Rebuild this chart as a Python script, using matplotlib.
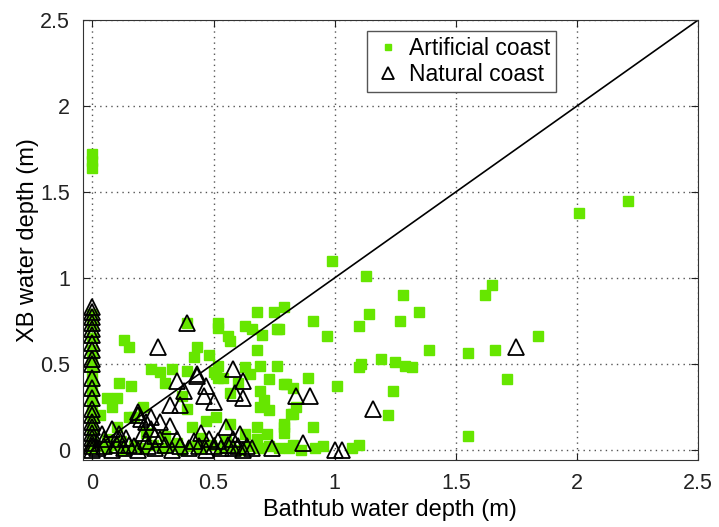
"""Bathtub vs XBeach water depth scatter, artificial vs natural coast."""
import matplotlib
matplotlib.use("Agg")
import matplotlib.pyplot as plt

plt.rcParams["font.family"] = ["Liberation Sans", "DejaVu Sans"]

# artificial coast (green squares): bathtub depth, XB depth (m)
art_x = [0, 0, 0, 0, 0, 0, 0, 0, 0, 0, 0, 0, 0, 0, 0, 0, 0,
         0.99, 1.13, 2.01, 2.21, 1.65, 1.62, 1.28, 1.14, 1.35, 1.27, 1.10, 0.91, 0.97, 0.79, 0.77,
         1.39, 1.55, 1.66, 1.84, 1.71, 1.55, 1.11, 1.10, 1.19, 1.25, 1.29, 1.32, 1.01, 1.24, 1.22,
         0.89, 0.80, 0.83, 0.84, 0.83, 0.79, 0.79, 0.91,
         0.13, 0.15, 0.24, 0.28, 0.33, 0.39, 0.11, 0.16, 0.06, 0.10, 0.08, 0.21, 0.15, 0.03, 0.10,
         0.30, 0.43, 0.42, 0.48, 0.52, 0.52, 0.63, 0.66, 0.68, 0.75, 0.70, 0.76, 0.57, 0.56, 0.68,
         0.52, 0.50, 0.51, 0.52, 0.54, 0.60, 0.63, 0.65, 0.69, 0.76, 0.73, 0.69, 0.71, 0.69, 0.73,
         0.79, 0.82, 0.57, 0.39, 0.37, 0.47, 0.51, 0.41, 0.57, 0.68, 0.72, 0.79, 0.63, 0.68, 0.39,
         0.17, 0.22, 0.30, 0.45,
         0.03, 0.06, 0.09, 0.13, 0.17, 0.21, 0.25, 0.29, 0.33, 0.37, 0.41, 0.45, 0.49, 0.53, 0.57,
         0.61, 0.65, 0.69, 0.73, 0.77, 0.81, 0.83, 0.86, 0.92, 0.95, 1.07, 1.10, 0.06, 0.12, 0.35, 0.55]
art_y = [1.64, 1.68, 1.72, 0.79, 0.72, 0.65, 0.58, 0.52, 0.46, 0.40, 0.34, 0.28, 0.22, 0.16, 0.10, 0.05, 0.01,
         1.10, 1.01, 1.38, 1.45, 0.96, 0.90, 0.90, 0.79, 0.80, 0.75, 0.72, 0.75, 0.66, 0.83, 0.70,
         0.58, 0.56, 0.58, 0.66, 0.41, 0.08, 0.50, 0.48, 0.53, 0.51, 0.49, 0.48, 0.37, 0.34, 0.20,
         0.42, 0.38, 0.36, 0.25, 0.21, 0.13, 0.10, 0.13,
         0.64, 0.60, 0.47, 0.45, 0.47, 0.46, 0.39, 0.37, 0.30, 0.30, 0.25, 0.25, 0.19, 0.20, 0.13,
         0.39, 0.60, 0.54, 0.55, 0.74, 0.71, 0.72, 0.70, 0.80, 0.80, 0.67, 0.70, 0.63, 0.66, 0.58,
         0.49, 0.45, 0.44, 0.42, 0.42, 0.39, 0.48, 0.44, 0.49, 0.49, 0.41, 0.34, 0.29, 0.25, 0.23,
         0.38, 0.21, 0.33, 0.24, 0.31, 0.17, 0.19, 0.13, 0.15, 0.13, 0.09, 0.15, 0.09, 0.06, 0.74,
         0.19, 0.10, 0.08, 0.07,
         0.02, 0.01, 0.03, 0.00, 0.02, 0.01, 0.03, 0.01, 0.02, 0.00, 0.02, 0.01, 0.03, 0.01, 0.02,
         0.00, 0.02, 0.01, 0.02, 0.01, 0.01, 0.03, 0.00, 0.01, 0.02, 0.01, 0.03, 0.06, 0.05, 0.04, 0.05]

# natural coast (open triangles)
nat_x = [0, 0, 0, 0, 0, 0, 0, 0, 0, 0, 0, 0, 0, 0, 0, 0, 0, 0, 0, 0, 0, 0,
         0.39, 0.27, 0.58, 0.35, 0.43, 0.47, 0.38, 0.62, 0.59, 0.62, 0.46, 0.50, 0.32, 0.36, 0.19,
         0.84, 0.90, 0.55, 0.61, 0.45, 0.74, 0.08, 0.11, 0.19, 0.24, 0.20, 0.22, 0.28, 0.32, 0.04,
         0.21, 0.24, 0.28, 0.22, 0.11, 0.15, 0.42, 0.48, 0.52, 0.87, 1.00, 1.03, 1.16, 1.75, 0.43,
         0.02, 0.05, 0.08, 0.10, 0.13, 0.17, 0.19, 0.23, 0.26, 0.30, 0.33, 0.36, 0.40, 0.44, 0.47,
         0.50, 0.53, 0.56, 0.58, 0.60, 0.62, 0.64, 0.66, 0.05, 0.14, 0.26, 0.35, 0.58]
nat_y = [0.83, 0.80, 0.77, 0.74, 0.70, 0.67, 0.62, 0.58, 0.53, 0.50, 0.42, 0.36, 0.30, 0.24, 0.20,
         0.16, 0.13, 0.10, 0.07, 0.04, 0.02, 0.00,
         0.74, 0.60, 0.47, 0.40, 0.43, 0.37, 0.34, 0.40, 0.33, 0.30, 0.31, 0.28, 0.26, 0.26, 0.20,
         0.31, 0.31, 0.13, 0.09, 0.10, 0.01, 0.12, 0.09, 0.22, 0.19, 0.18, 0.16, 0.16, 0.14, 0.09,
         0.10, 0.12, 0.06, 0.05, 0.06, 0.03, 0.05, 0.06, 0.05, 0.04, 0.00, 0.00, 0.24, 0.60, 0.44,
         0.01, 0.02, 0.00, 0.03, 0.01, 0.02, 0.00, 0.02, 0.01, 0.03, 0.00, 0.02, 0.01, 0.02, 0.00,
         0.02, 0.01, 0.03, 0.01, 0.02, 0.00, 0.02, 0.01, 0.06, 0.07, 0.08, 0.06, 0.06]

one_to_one = [0, 2.5]
ticks = [0, 0.5, 1, 1.5, 2, 2.5]
tick_labels = ["0", "0.5", "1", "1.5", "2", "2.5"]

fig = plt.figure(figsize=(7.19, 5.27), dpi=100)
ax = fig.add_axes([0.115, 0.127, 0.856, 0.835])

ax.plot(art_x, art_y, ls="none", marker="s", ms=6.5, mfc="#66e600", mec="#66e600",
        label="Artificial coast")
ax.plot(nat_x, nat_y, ls="none", marker="^", ms=11.5, mfc="none", mec="black", mew=1.3,
        label="Natural coast")
ax.plot(one_to_one, one_to_one, color="black", lw=1.2)

ax.set_xlim(-0.04, 2.5)
ax.set_ylim(-0.06, 2.5)
ax.set_xticks(ticks)
ax.set_yticks(ticks)
ax.set_xticklabels(tick_labels)
ax.set_yticklabels(tick_labels)
ax.tick_params(direction="in", top=True, right=True, length=5, labelsize=15.5,
               colors="#222222", pad=9)
ax.grid(True, ls=(0, (1, 3)), color="#555555", lw=1.0)
for s in ax.spines.values():
    s.set_color("#333333")

ax.set_xlabel("Bathtub water depth (m)", fontsize=17, labelpad=4)
ax.set_ylabel("XB water depth (m)", fontsize=17, labelpad=1)

leg = ax.legend(loc="upper left", bbox_to_anchor=(0.462, 0.975), borderaxespad=0,
                fontsize=16.5, fancybox=False, edgecolor="#555555", framealpha=1,
                borderpad=0.25, handletextpad=0.3, handlelength=1.3, labelspacing=0.15,
                markerscale=0.75)

fig.savefig("out.png", dpi=100)
